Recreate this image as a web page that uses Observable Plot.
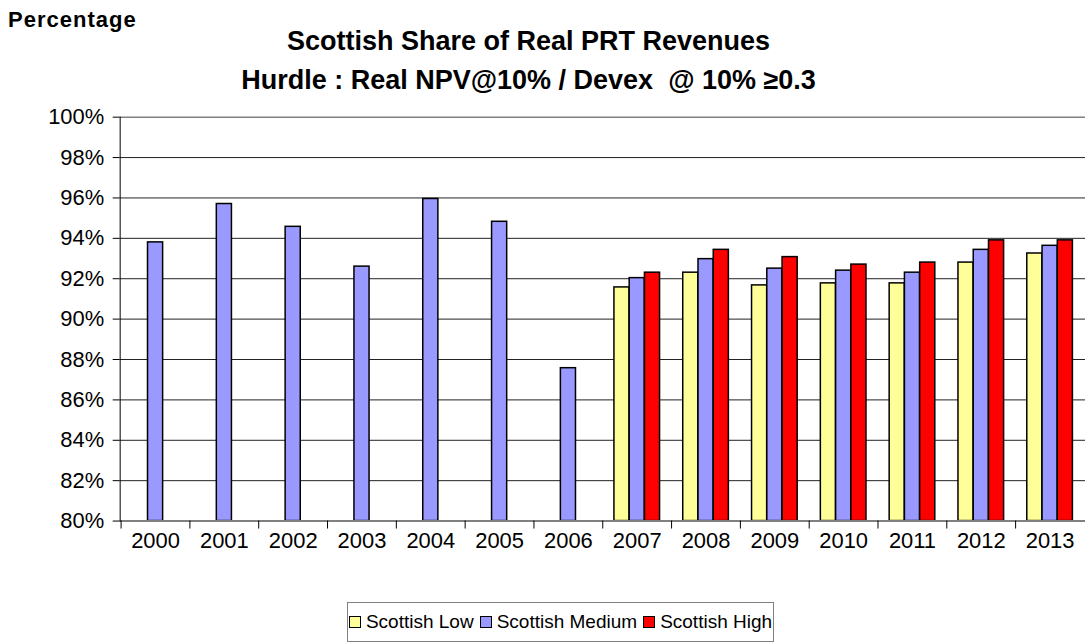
<!DOCTYPE html>
<html>
<head>
<meta charset="utf-8">
<script src="https://cdn.jsdelivr.net/npm/d3@7"></script>
<script src="https://cdn.jsdelivr.net/npm/@observablehq/plot@0.6"></script>
<style>
  html, body { margin: 0; padding: 0; background: #fff; overflow: hidden; }
  #wrap { position: relative; width: 1085px; height: 644px; overflow: hidden; font-family: "Liberation Sans", Arial, sans-serif; }
  #ylab { position: absolute; left: 8px; top: 7px; font-size: 22px; font-weight: bold; letter-spacing: 1px; color: #000; }
  .ttl { position: absolute; left: -14px; width: 1085px; text-align: center; font-weight: bold; font-size: 27px; color: #000; white-space: pre; }
  #chart { position: absolute; left: 0; top: 0; }
  #legend { position: absolute; left: 347px; top: 602px; width: 427px; height: 40px; box-sizing: border-box; border: 1.5px solid #808080; background: #fff; display: flex; align-items: center; justify-content: center; font-size: 19px; color: #000; white-space: nowrap; }
  .item { display: flex; align-items: center; margin: 0 3px; white-space: nowrap; }
  .sw { width: 10px; height: 10px; border: 1.5px solid #000; margin-right: 5px; }
</style>
</head>
<body>
<div id="wrap">
  <div id="chart"></div>
  <div id="ylab">Percentage</div>
  <div id="legend"></div>
</div>
<script>
const years = ["2000","2001","2002","2003","2004","2005","2006","2007","2008","2009","2010","2011","2012","2013"];
const seriesNames = ["Scottish Low", "Scottish Medium", "Scottish High"];
const seriesColors = ["#FFFF99", "#9999FF", "#FF0000"];
const lowYears = ["2007","2008","2009","2010","2011","2012","2013"];
const lowValues = [91.57, 92.3, 91.67, 91.77, 91.77, 92.8, 93.25];
const mediumValues = [93.8, 95.7, 94.57, 92.6, 95.95, 94.82, 87.57, 92.03, 92.97, 92.5, 92.4, 92.3, 93.43, 93.63];
const highYears = ["2007","2008","2009","2010","2011","2012","2013"];
const highValues = [92.3, 93.43, 93.07, 92.7, 92.8, 93.9, 93.9];
const yTicks = [80, 82, 84, 86, 88, 90, 92, 94, 96, 98, 100];
const titleLines = ["Scottish Share of Real PRT Revenues", "Hurdle : Real NPV@10% / Devex  @ 10% \u22650.3"];

const low = lowYears.map((y, i) => ({year: y, value: lowValues[i]}));
const medium = years.map((y, i) => ({year: y, value: mediumValues[i]}));
const high = highYears.map((y, i) => ({year: y, value: highValues[i]}));

const W = 1088, H = 600, ML = 120, MR = 0, MT = 117, MB = 78;
const bw = (W - ML - MR) / years.length;
const barW = 15.3;
const inset = (bw - barW) / 2;

const barOpts = (dx, color) => ({x: "year", y1: 80, y2: "value", fill: color, stroke: "#000", strokeWidth: 1.5, insetLeft: inset, insetRight: inset, dx});

const chart = Plot.plot({
  width: W, height: H,
  marginLeft: ML, marginRight: MR, marginTop: MT, marginBottom: MB,
  style: {fontFamily: '"Liberation Sans", Arial, sans-serif', fontSize: "22px", color: "#000", background: "transparent", overflow: "visible"},
  x: {domain: years, padding: 0},
  y: {domain: [80, 100]},
  marks: [
    Plot.ruleY(yTicks.filter(d => d > 80 && d < 100), {stroke: "#222", strokeWidth: 1}),
    Plot.ruleY([100], {stroke: "#808080", strokeWidth: 1.5}),
    Plot.barY(low, barOpts(-barW, seriesColors[0])),
    Plot.barY(medium, barOpts(0, seriesColors[1])),
    Plot.barY(high, barOpts(barW, seriesColors[2])),
    Plot.ruleY([80], {stroke: "#808080", strokeWidth: 2}),
    Plot.ruleX(years, {x: d => d, y1: 80, y2: 80, insetBottom: -8, dx: -bw / 2, stroke: "#000", strokeWidth: 1}),
    Plot.frame({anchor: "left", stroke: "#000", strokeWidth: 1}),
    Plot.axisY({ticks: yTicks, tickFormat: d => d + "%", tickSize: 7, tickPadding: 9, fontSize: 22, label: null, stroke: "#000", fill: "#000"}),
    Plot.axisX({tickSize: 0, tickPadding: 11, fontSize: 22, label: null, fill: "#000"})
  ]
});
document.getElementById("chart").appendChild(chart);

titleLines.forEach((t, i) => {
  const d = document.createElement("div");
  d.className = "ttl";
  d.textContent = t;
  d.style.top = (i === 0 ? 26 : 65) + "px";
  document.getElementById("wrap").appendChild(d);
});

const legend = document.getElementById("legend");
seriesNames.forEach((n, i) => {
  const it = document.createElement("div");
  it.className = "item";
  const sw = document.createElement("div");
  sw.className = "sw";
  sw.style.background = seriesColors[i];
  const tx = document.createElement("span");
  tx.textContent = n;
  it.appendChild(sw);
  it.appendChild(tx);
  legend.appendChild(it);
});
</script>
</body>
</html>
